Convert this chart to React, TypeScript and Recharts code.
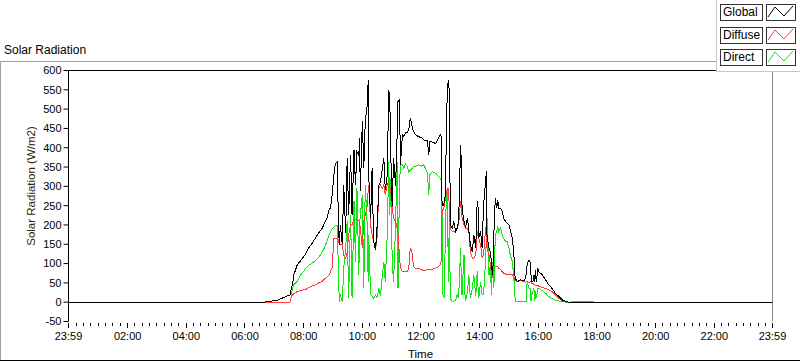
import React from 'react';
import { LineChart, Line, XAxis, YAxis, ReferenceLine, Legend } from 'recharts';

// sample times (HH:MM)
const times = [
    '00:00', '06:38', '07:06', '07:19', '07:32', '07:34', '07:37', '07:40', '07:47', '07:54',
    '08:00', '08:04', '08:10', '08:17', '08:24', '08:31', '08:38', '08:43', '08:48', '08:52',
    '08:55', '08:58', '09:02', '09:05', '09:09', '09:11', '09:13', '09:15', '09:19', '09:22',
    '09:26', '09:29', '09:32', '09:36', '09:39', '09:43', '09:46', '09:49', '09:53', '09:54',
    '09:56', '10:00', '10:03', '10:06', '10:10', '10:12', '10:13', '10:17', '10:20', '10:23',
    '10:27', '10:30', '10:34', '10:37', '10:41', '10:44', '10:47', '10:51', '10:54', '10:56',
    '10:59', '11:01', '11:04', '11:08', '11:11', '11:13', '11:16', '11:18', '11:22', '11:25',
    '11:28', '11:32', '11:35', '11:38', '11:41', '11:42', '11:45', '11:49', '11:55', '12:02',
    '12:06', '12:13', '12:16', '12:18', '12:23', '12:30', '12:36', '12:40', '12:42', '12:43',
    '12:45', '12:48', '12:50', '12:52', '12:54', '12:56', '12:58', '13:00', '13:04', '13:07',
    '13:11', '13:14', '13:17', '13:21', '13:23', '13:24', '13:28', '13:30', '13:31', '13:35',
    '13:38', '13:41', '13:45', '13:48', '13:52', '13:55', '13:57', '13:58', '14:02', '14:05',
    '14:08', '14:12', '14:14', '14:15', '14:19', '14:22', '14:24', '14:26', '14:28', '14:29',
    '14:32', '14:35', '14:37', '14:39', '14:43', '14:46', '14:49', '14:53', '14:56', '15:00',
    '15:03', '15:07', '15:10', '15:12', '15:13', '15:17', '15:24', '15:30', '15:34', '15:36',
    '15:37', '15:41', '15:43', '15:45', '15:46', '15:49', '15:51', '15:53', '15:54', '15:56',
    '15:59', '16:01', '16:08', '16:15', '16:21', '16:28', '16:35', '16:42', '16:49', '16:56',
    '17:02', '17:26', '17:51', '17:55', '23:59',
];

// W/m2
const globalRad = [
    0, 0, 5, 12, 19, 30, 45, 71, 97, 108,
    118, 125, 140, 152, 166, 180, 192, 205, 218, 240,
    244, 274, 330, 360, 363, 200, 149, 200, 150, 304,
    180, 373, 225, 382, 225, 395, 304, 390, 380, 425,
    287, 468, 347, 468, 510, 576, 330, 218, 347, 157,
    136, 192, 304, 310, 347, 373, 290, 330, 550, 535,
    340, 250, 373, 300, 425, 520, 525, 356, 433, 429,
    438, 440, 447, 476, 465, 451, 442, 433, 429, 425,
    420, 420, 382, 415, 415, 411, 425, 434, 425, 261,
    250, 261, 280, 450, 554, 576, 545, 200, 192, 209,
    183, 192, 209, 407, 347, 243, 209, 200, 192, 218,
    183, 149, 131, 174, 140, 261, 243, 166, 183, 140,
    252, 312, 339, 174, 140, 131, 105, 71, 105, 175,
    269, 243, 265, 243, 243, 235, 218, 209, 205, 200,
    185, 166, 123, 71, 62, 53, 58, 55, 62, 80,
    97, 110, 105, 71, 53, 53, 71, 53, 84, 53,
    88, 79, 71, 58, 45, 36, 23, 15, 6, 2,
    0, 0, 0, 0, 0,
];

const diffuseRad = [
    0, 0, 0, 0, 0, 10, 19, 22, 28, 30,
    32, 32, 38, 42, 45, 50, 54, 60, 66, 70,
    80, 88, 166, 166, 166, 160, 150, 150, 150, 122,
    114, 130, 174, 200, 200, 215, 215, 215, 210, 210,
    190, 140, 210, 225, 250, 290, 304, 200, 175, 157,
    136, 166, 295, 304, 295, 304, 278, 304, 313, 300,
    278, 243, 218, 209, 192, 180, 120, 88, 79, 79,
    79, 79, 88, 140, 135, 122, 92, 88, 88, 84,
    81, 85, 85, 85, 85, 88, 92, 97, 110, 226,
    240, 250, 270, 285, 295, 295, 245, 190, 183, 183,
    183, 192, 200, 261, 240, 218, 200, 195, 192, 192,
    183, 131, 114, 114, 122, 183, 170, 166, 149, 114,
    122, 190, 200, 140, 122, 97, 80, 62, 88, 88,
    92, 92, 92, 88, 84, 79, 75, 73, 73, 73,
    72, 71, 66, 58, 58, 53, 56, 53, 52, 54,
    55, 49, 53, 53, 49, 49, 45, 45, 43, 43,
    43, 41, 38, 36, 32, 28, 19, 10, 3, 1,
    0, 0, 0, 0, 0,
];

const directRad = [
    0, 0, 0, 0, 0, 10, 36, 45, 54, 71,
    80, 88, 95, 101, 108, 116, 130, 142, 160, 175,
    183, 190, 195, 199, 199, 80, 0, 20, 0, 88,
    140, 209, 10, 225, 10, 261, 105, 295, 70, 200,
    225, 278, 36, 304, 200, 53, 175, 19, 15, 10,
    19, 12, 36, 15, 71, 105, 53, 175, 364, 225,
    330, 105, 53, 200, 364, 36, 304, 356, 356, 347,
    358, 352, 338, 342, 345, 347, 352, 352, 356, 352,
    356, 334, 278, 330, 338, 334, 325, 321, 312, 226,
    19, 10, 209, 261, 295, 53, 226, 10, 2, 2,
    6, 19, 10, 140, 30, 19, 123, 19, 2, 28,
    71, 10, 36, 71, 15, 80, 30, 10, 53, 19,
    19, 105, 180, 218, 70, 97, 19, 100, 105, 36,
    174, 183, 196, 183, 192, 174, 166, 157, 157, 140,
    120, 105, 62, 19, 2, 2, 2, 2, 2, 2,
    53, 36, 36, 2, 19, 28, 36, 2, 28, 10,
    36, 36, 30, 23, 15, 9, 5, 3, 2, 0,
    0, 2, 2, 0, 0,
];

const yTicks = [-50, 0, 50, 100, 150, 200, 250, 300, 350, 400, 450, 500, 550, 600];
const xTickLabels = ['23:59', '02:00', '04:00', '06:00', '08:00', '10:00', '12:00', '14:00', '16:00', '18:00', '20:00', '22:00', '23:59'];

const seriesNames = ['Global', 'Diffuse', 'Direct'];
const seriesColors: Record<string, string> = { Global: '#000000', Diffuse: '#ff3c3c', Direct: '#12e612' };

const FONT = '"Liberation Sans", Arial, sans-serif';
const X_START = -1; // 23:59 of the day before
const X_END = 1439;

const toMinutes = (t: string) => {
    const [h, m] = t.split(':').map(Number);
    return h * 60 + m;
};

const data = times.map((t, i) => ({
    t: toMinutes(t),
    global: globalRad[i],
    diffuse: diffuseRad[i],
    direct: directRad[i],
}));

// major ticks every 2h (labelled), minor every 15 min
const majorTicks = xTickLabels.map((l, i) => (i === 0 ? X_START : toMinutes(l)));
const minorTicks: number[] = [];
for (let m = 15; m < X_END; m += 15) {
    if (m % 120 !== 0) minorTicks.push(m);
}
const allTicks = [...majorTicks, ...minorTicks].sort((a, b) => a - b);

const TimeTick = (props: any) => {
    const { x, y, payload } = props;
    const idx = majorTicks.indexOf(payload.value);
    const px = Math.round(x - 0.5) + 0.5;
    if (idx < 0) {
        return <line x1={px} x2={px} y1={y + 1.5} y2={y + 4.5} stroke="#000" />;
    }
    return (
        <g>
            <line x1={px} x2={px} y1={y + 1.5} y2={y + 6.5} stroke="#000" />
            <text x={x} y={y + 18.5} textAnchor="middle" fontSize={11} fill="#000">
                {xTickLabels[idx]}
            </text>
        </g>
    );
};

const Zigzag = ({ color }: { color: string }) => (
    <svg width={28} height={15} style={{ display: 'block' }}>
        <polyline points="1,12 8,2 17,11 26,1" fill="none" stroke={color} strokeWidth={1} />
    </svg>
);

const renderLegend = (props: any) => {
    const payload = props.payload || [];
    return (
        <div style={{ position: 'relative', width: '100%', height: '100%' }}>
            {seriesNames.map((name, i) => {
                const item = payload.find((p: any) => p.value === name);
                const color = item ? item.color : seriesColors[name];
                const top = 4 + i * 22.6;
                return (
                    <React.Fragment key={name}>
                        <div
                            style={{
                                position: 'absolute',
                                left: 3,
                                top,
                                width: 43,
                                height: 17,
                                boxSizing: 'border-box',
                                border: '1px solid #333',
                                background: '#fff',
                                fontSize: 12,
                                lineHeight: '15px',
                                paddingLeft: 2,
                                color: '#000',
                                textAlign: 'left',
                            }}
                        >
                            {name}
                        </div>
                        <div
                            style={{
                                position: 'absolute',
                                left: 49,
                                top,
                                width: 30,
                                height: 17,
                                boxSizing: 'border-box',
                                border: '1px solid #333',
                                background: '#fff',
                            }}
                        >
                            <Zigzag color={color} />
                        </div>
                    </React.Fragment>
                );
            })}
        </div>
    );
};

export default function App() {
    return (
        <div
            style={{
                position: 'absolute',
                left: 0,
                top: 0,
                width: 800,
                height: 361,
                background: '#fff',
                fontFamily: FONT,
                overflow: 'hidden',
            }}
        >
            {/* frame around the graph */}
            <div style={{ position: 'absolute', left: 0, top: 61, width: 716, height: 1, background: '#a0a0a0' }} />
            <div style={{ position: 'absolute', left: 0, top: 61, width: 1, height: 300, background: '#a0a0a0' }} />
            <div style={{ position: 'absolute', left: 0, top: 360, width: 800, height: 1, background: '#000' }} />
            <div style={{ position: 'absolute', left: 4, top: 43, fontSize: 12, color: '#000' }}>Solar Radiation</div>

            <LineChart
                width={800}
                height={361}
                data={data}
                margin={{ top: 70.5, right: 27.5, left: 0, bottom: 0 }}
                style={{ position: 'absolute', left: 0, top: 0 }}
            >
                <XAxis
                    type="number"
                    dataKey="t"
                    domain={[X_START, X_END]}
                    ticks={allTicks}
                    interval={0}
                    height={39.5}
                    tickSize={0}
                    tickMargin={0}
                    axisLine={false}
                    tickLine={false}
                    tick={(p: any) => <TimeTick {...p} />}
                    allowDataOverflow
                    label={{ value: 'Time', position: 'insideBottom', offset: 3, fill: '#000', fontSize: 11.5 }}
                />
                <YAxis
                    type="number"
                    domain={[-50, 600]}
                    ticks={yTicks}
                    interval={0}
                    width={68.5}
                    tickSize={5}
                    tickMargin={2}
                    axisLine={{ stroke: '#000' }}
                    tickLine={{ stroke: '#000' }}
                    tick={{ fontSize: 11, fill: '#000' }}
                    allowDataOverflow
                    label={{
                        value: 'Solar Radiation (W/m2)',
                        angle: -90,
                        position: 'center',
                        dx: -3,
                        dy: -10,
                        fill: '#2e2210',
                        fontSize: 11.5,
                    }}
                />
                <ReferenceLine y={600} stroke="#000" />
                <ReferenceLine x={X_END} stroke="#8c8c8c" />
                <Legend
                    layout="horizontal"
                    verticalAlign="middle"
                    align="center"
                    content={renderLegend}
                    wrapperStyle={{
                        left: 716,
                        top: 0,
                        width: 84,
                        height: 72,
                        background: '#fff',
                        borderLeft: '1px solid #c8c8c8',
                        borderBottom: '1px solid #c8c8c8',
                        boxSizing: 'border-box',
                    }}
                />
                <Line
                    name="Direct"
                    dataKey="direct"
                    type="linear"
                    stroke={seriesColors.Direct}
                    strokeWidth={1}
                    dot={false}
                    shapeRendering="crispEdges"
                    isAnimationActive={false}
                />
                <Line
                    name="Diffuse"
                    dataKey="diffuse"
                    type="linear"
                    stroke={seriesColors.Diffuse}
                    strokeWidth={1}
                    dot={false}
                    shapeRendering="crispEdges"
                    isAnimationActive={false}
                />
                <Line
                    name="Global"
                    dataKey="global"
                    type="linear"
                    stroke={seriesColors.Global}
                    strokeWidth={1}
                    dot={false}
                    shapeRendering="crispEdges"
                    isAnimationActive={false}
                />
            </LineChart>
        </div>
    );
}
